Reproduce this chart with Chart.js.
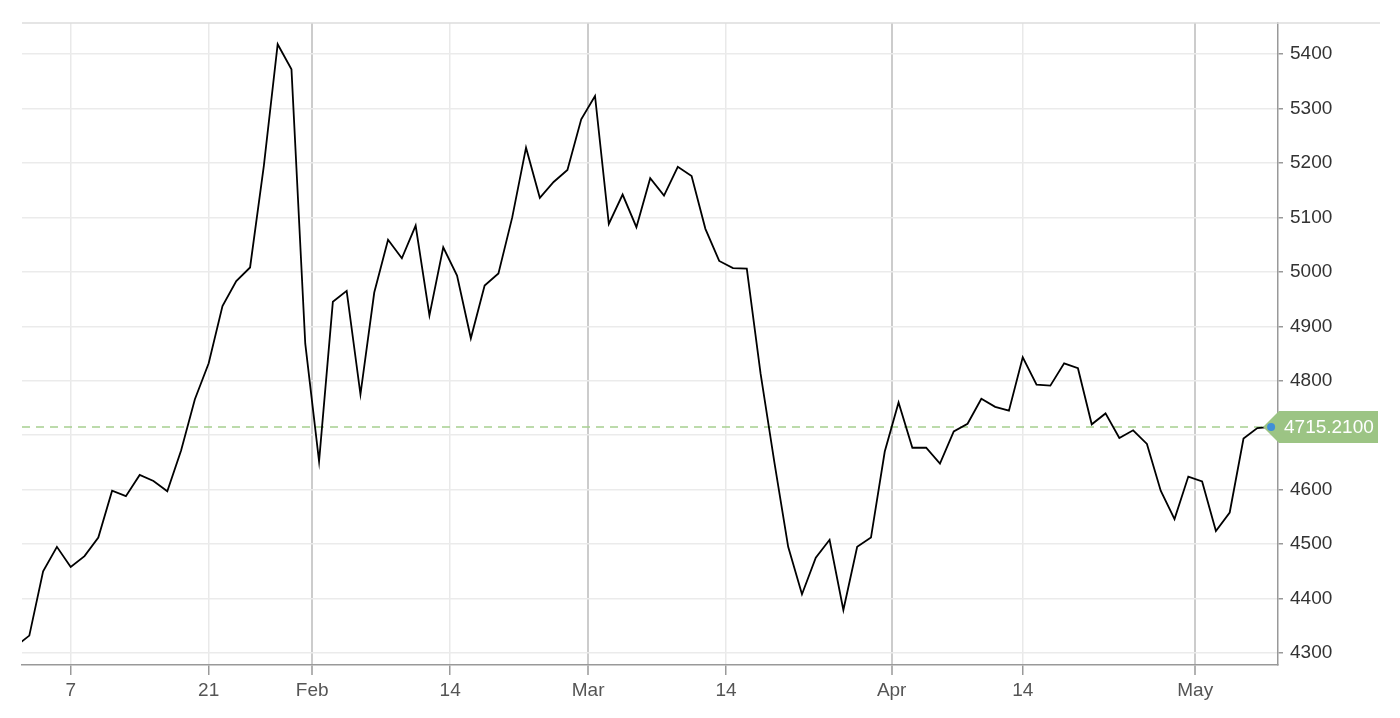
<!DOCTYPE html>
<html>
<head>
<meta charset="utf-8">
<script src="https://cdn.jsdelivr.net/npm/chart.js@4.4.1/dist/chart.umd.min.js"></script>
<style>
  html, body { margin: 0; padding: 0; background: #fff; }
  canvas { display: block; }
</style>
</head>
<body>
<canvas id="priceChart" width="1400" height="718"></canvas>
<script>
// closing values, one per trading session (first one sits just left of the visible range)
const values = [
  4312, 4332, 4450, 4495, 4458, 4478, 4512, 4598, 4588, 4627,
  4616, 4597, 4672, 4766, 4832, 4937, 4983, 5008, 5195, 5418,
  5372, 4868, 4652, 4945, 4965, 4775, 4962, 5059, 5025, 5085,
  4920, 5045, 4993, 4878, 4975, 4997, 5100, 5228, 5136, 5165,
  5187, 5280, 5323, 5088, 5142, 5082, 5172, 5140, 5193, 5176,
  5079, 5020, 5007, 5006, 4813, 4650, 4495, 4408, 4475, 4508,
  4379, 4495, 4512, 4670, 4760, 4677, 4677, 4648, 4707, 4721,
  4767, 4752, 4745, 4843, 4793, 4791, 4832, 4823, 4720, 4740,
  4695, 4709, 4684, 4598, 4546, 4624, 4615, 4524, 4558, 4694,
  4713, 4715.21
];
const lastPrice = values[values.length - 1];

// date ticks, given as session index (month starts fall between sessions)
const xTickIndex = [4, 14, 21.5, 31.5, 41.5, 51.5, 63.5, 73, 85.5];
const xTickLabels = ["7", "21", "Feb", "14", "Mar", "14", "Apr", "14", "May"];
const yTickValues = [4300, 4400, 4500, 4600, 4700, 4800, 4900, 5000, 5100, 5200, 5300, 5400];

const isMonth = label => /[A-Za-z]/.test(label);
const FONT = "'Liberation Sans', Arial, Helvetica, sans-serif";

const priceTag = {
  id: "priceTag",
  beforeDatasetsDraw(chart) {
    const { ctx, chartArea, scales } = chart;
    const y = scales.y.getPixelForValue(lastPrice);
    ctx.save();
    ctx.strokeStyle = "#a7cf90";
    ctx.lineWidth = 1.5;
    ctx.setLineDash([8, 6]);
    ctx.beginPath();
    ctx.moveTo(chartArea.left, y);
    ctx.lineTo(chartArea.right, y);
    ctx.stroke();
    ctx.restore();
  },
  afterDatasetsDraw(chart) {
    const { ctx, chartArea, scales } = chart;
    const x = scales.x.getPixelForValue(values.length - 1);
    const y = scales.y.getPixelForValue(lastPrice);
    const left = chartArea.right + 1;
    const right = chart.width - 22;
    ctx.save();
    ctx.fillStyle = "#9cc484";
    ctx.beginPath();
    ctx.moveTo(chartArea.right - 15, y);
    ctx.lineTo(left, y - 16);
    ctx.lineTo(right, y - 16);
    ctx.lineTo(right, y + 16);
    ctx.lineTo(left, y + 16);
    ctx.closePath();
    ctx.fill();
    ctx.fillStyle = "#ffffff";
    ctx.font = "19px " + FONT;
    ctx.textBaseline = "middle";
    ctx.fillText(lastPrice.toFixed(4), left + 5, y + 1);
    ctx.fillStyle = "#3f8fd8";
    ctx.beginPath();
    ctx.arc(x, y, 4, 0, Math.PI * 2);
    ctx.fill();
    ctx.restore();
  },
  afterDraw(chart) {
    const { ctx, chartArea } = chart;
    ctx.save();
    ctx.strokeStyle = "#dddddd";
    ctx.lineWidth = 1.5;
    ctx.beginPath();
    ctx.moveTo(chartArea.left, chartArea.top);
    ctx.lineTo(chart.width - 20, chartArea.top);
    ctx.stroke();
    ctx.restore();
  }
};

new Chart(document.getElementById("priceChart"), {
  type: "line",
  data: {
    datasets: [{
      data: values.map((v, i) => ({ x: i, y: v })),
      borderColor: "#000000",
      borderWidth: 1.8,
      pointRadius: 0,
      tension: 0,
      clip: 0
    }]
  },
  options: {
    responsive: false,
    animation: false,
    events: [],
    layout: { padding: { top: 23, left: 22, right: 0, bottom: 0 } },
    plugins: { legend: { display: false }, tooltip: { enabled: false } },
    scales: {
      x: {
        type: "linear",
        bounds: "data",
        min: 0.47,
        max: 91.5,
        afterBuildTicks: s => { s.ticks = xTickIndex.map(v => ({ value: v })); },
        afterFit: s => { s.height = 53; },
        grid: {
          color: c => (c.tick && isMonth(xTickLabels[c.index]) ? "#cccccc" : "#e9e9e9"),
          lineWidth: c => (c.tick && isMonth(xTickLabels[c.index]) ? 2 : 1.5),
          tickColor: "#999999",
          tickWidth: 1.5,
          tickLength: 10
        },
        border: { color: "#999999", width: 1.5 },
        ticks: {
          autoSkip: false,
          maxRotation: 0,
          padding: 4,
          color: "#555555",
          font: { family: FONT, size: 19 },
          callback: (v, i) => xTickLabels[i]
        }
      },
      y: {
        position: "right",
        bounds: "data",
        min: 4278,
        max: 5457,
        afterBuildTicks: s => { s.ticks = yTickValues.map(v => ({ value: v })); },
        afterFit: s => { s.width = 122; },
        grid: {
          color: "#ebebeb",
          lineWidth: 1.5,
          tickColor: "#999999",
          tickWidth: 1.5,
          tickLength: 5
        },
        border: { color: "#999999", width: 1.5 },
        ticks: {
          padding: 7,
          color: "#333333",
          font: { family: FONT, size: 19 },
          callback: v => String(v)
        }
      }
    }
  },
  plugins: [priceTag]
});
</script>
</body>
</html>
